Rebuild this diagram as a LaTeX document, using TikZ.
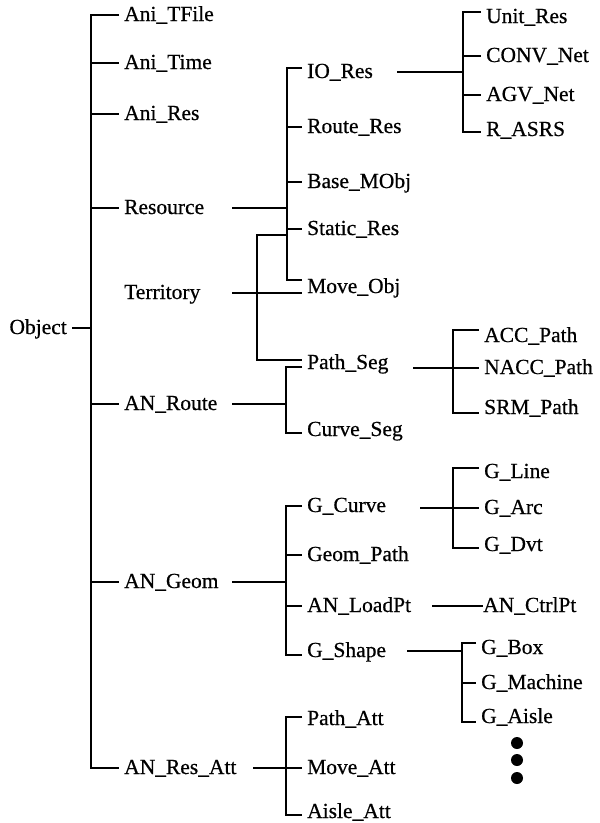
\documentclass[tikz,border=0pt]{standalone}
\usepackage{fontspec}
\setmainfont{Liberation Serif}
\newfontfamily\scanfont{Liberation Serif}[FakeBold=0.6]
\begin{document}
\begin{tikzpicture}[x=1pt,y=-1pt,
  lab/.style={anchor=west, inner xsep=5pt, inner ysep=0pt, text height=14pt, text depth=2pt, font=\scanfont\fontsize{21.5}{24}\selectfont},
  ln/.style={line width=1.9pt},
  tr/.style={line width=2.6pt},
  dotn/.style={circle, fill, inner sep=0pt, minimum size=12pt}]
\useasboundingbox (0,0) rectangle (600,823);
% level 1
\node[lab] (ani1) at (119,15) {Ani\_TFile};
\node[lab] (ani2) at (119,63) {Ani\_Time};
\node[lab] (ani3) at (119,114) {Ani\_Res};
\node[lab] (res) at (119,208) {Resource};
\node[lab] (terr) at (119,293) {Territory};
\node[lab] (route) at (119,404) {AN\_Route};
\node[lab] (geom) at (119,582) {AN\_Geom};
\node[lab] (att) at (119,768) {AN\_Res\_Att};
\node[lab, anchor=east] (obj) at (72,328) {Object};
% level 2
\node[lab] (io) at (302,72) {IO\_Res};
\node[lab] (routeres) at (302,127) {Route\_Res};
\node[lab] (basem) at (302,182) {Base\_MObj};
\node[lab] (static) at (302,229) {Static\_Res};
\node[lab] (move) at (302,287) {Move\_Obj};
\node[lab] (pathseg) at (302,363) {Path\_Seg};
\node[lab] (curveseg) at (302,430) {Curve\_Seg};
\node[lab] (gcurve) at (302,506) {G\_Curve};
\node[lab] (geompath) at (302,555) {Geom\_Path};
\node[lab] (loadpt) at (302,606) {AN\_LoadPt};
\node[lab] (gshape) at (302,651) {G\_Shape};
\node[lab] (pathatt) at (302,719) {Path\_Att};
\node[lab] (moveatt) at (302,768) {Move\_Att};
\node[lab] (aisleatt) at (302,812) {Aisle\_Att};
% level 3
\node[lab] (unit) at (481,17) {Unit\_Res};
\node[lab] (conv) at (481,56) {CONV\_Net};
\node[lab] (agv) at (481,95) {AGV\_Net};
\node[lab] (rasrs) at (481,130) {R\_ASRS};
\node[lab] (acc) at (479,336) {ACC\_Path};
\node[lab] (nacc) at (479,368) {NACC\_Path};
\node[lab] (srm) at (479,408) {SRM\_Path};
\node[lab] (gline) at (479,472) {G\_Line};
\node[lab] (garc) at (479,508) {G\_Arc};
\node[lab] (gdvt) at (479,545) {G\_Dvt};
\node[lab] (ctrl) at (478,606) {AN\_CtrlPt};
\node[lab] (gbox) at (476,648) {G\_Box};
\node[lab] (gmach) at (476,683) {G\_Machine};
\node[lab] (gaisle) at (476,717) {G\_Aisle};
\node[dotn] (d1) at (517,743) {};
\node[dotn] (d2) at (517,760) {};
\node[dotn] (d3) at (517,778) {};
% column coordinates
\coordinate (t1) at (91,0);
\coordinate (s2) at (232,0);
\coordinate (s3) at (253,0);
\coordinate (rT) at (287,0);
\coordinate (tT) at (257,0);
\coordinate (aT) at (286,0);
\coordinate (ioT) at (463,0);
\coordinate (psT) at (453,0);
\coordinate (gsT) at (462,0);
\coordinate (ioS) at (397,0);
\coordinate (psS) at (413,0);
\coordinate (gcS) at (420,0);
\coordinate (lpS) at (432,0);
\coordinate (gsS) at (407,0);
% Object trunk
\draw[tr] (ani1.west) -- (t1|-ani1.west) -- (t1|-att.west) -- (att.west);
\foreach \n in {ani2,ani3,res,route,geom} \draw[ln] (t1|-\n.west) -- (\n.west);
\draw[ln] (obj.east) -- (t1|-obj.east);
% Resource
\draw[ln] (s2|-res.west) -- (rT|-res.west);
\coordinate (ioTop) at ([yshift=4pt]io.west);
\coordinate (moveTop) at ([yshift=7pt]move.west);
\draw[tr] (ioTop) -- (rT|-ioTop) -- (rT|-moveTop) -- (moveTop);
\foreach \n in {routeres,basem,static} \draw[ln] (rT|-\n.west) -- (\n.west);
% Territory
\draw[ln] (s2|-terr.west) -- (move.west|-terr.west);
\coordinate (terrTop) at ([yshift=-6pt]static.west);
\coordinate (psTop) at ([yshift=3pt]pathseg.west);
\draw[tr] (rT|-terrTop) -- (tT|-terrTop) -- (tT|-psTop) -- (psTop);
% AN_Route
\draw[ln] (s2|-route.west) -- (aT|-route.west);
\coordinate (psBot) at ([yshift=-4pt]pathseg.west);
\coordinate (csBot) at ([yshift=-3pt]curveseg.west);
\draw[tr] (psBot) -- (aT|-psBot) -- (aT|-csBot) -- (csBot);
% Path_Seg
\draw[ln] (psS|-nacc.west) -- (nacc.west);
\coordinate (accTop) at ([yshift=6pt]acc.west);
\coordinate (srmBot) at ([yshift=-5pt]srm.west);
\draw[tr] (accTop) -- (psT|-accTop) -- (psT|-srmBot) -- (srmBot);
% IO_Res
\draw[ln] (ioS|-io.west) -- (ioT|-io.west);
\coordinate (unitTop) at ([yshift=5pt]unit.west);
\coordinate (rasrsBot) at ([yshift=-2pt]rasrs.west);
\draw[tr] (unitTop) -- (ioT|-unitTop) -- (ioT|-rasrsBot) -- (rasrsBot);
\foreach \n in {conv,agv} \draw[ln] (ioT|-\n.west) -- (\n.west);
% AN_Geom
\draw[ln] (s2|-geom.west) -- (aT|-geom.west);
\coordinate (gsBot) at ([yshift=-4pt]gshape.west);
\draw[tr] (gcurve.west) -- (aT|-gcurve.west) -- (aT|-gsBot) -- (gsBot);
\foreach \n in {geompath,loadpt} \draw[ln] (aT|-\n.west) -- (\n.west);
% G_Curve
\draw[ln] (gcS|-garc.west) -- (garc.west);
\coordinate (glTop) at ([yshift=4pt]gline.west);
\coordinate (gdBot) at ([yshift=-3pt]gdvt.west);
\draw[tr] (glTop) -- (psT|-glTop) -- (psT|-gdBot) -- (gdBot);
% AN_LoadPt
\draw[ln] (lpS|-loadpt.west) -- ([xshift=5pt]ctrl.west);
% G_Shape
\draw[ln] (gsS|-gshape.west) -- (gsT|-gshape.west);
\coordinate (gbTop) at ([yshift=5pt]gbox.west);
\coordinate (gaBot) at ([yshift=-5pt]gaisle.west);
\draw[tr] (gbTop) -- (gsT|-gbTop) -- (gsT|-gaBot) -- (gaBot);
\draw[ln] (gsT|-gmach.west) -- (gmach.west);
% AN_Res_Att
\draw[ln] (s3|-moveatt.west) -- (moveatt.west);
\coordinate (paTop) at ([yshift=2pt]pathatt.west);
\coordinate (aaBot) at ([yshift=-3pt]aisleatt.west);
\draw[tr] (paTop) -- (aT|-paTop) -- (aT|-aaBot) -- (aaBot);
\end{tikzpicture}
\end{document}
